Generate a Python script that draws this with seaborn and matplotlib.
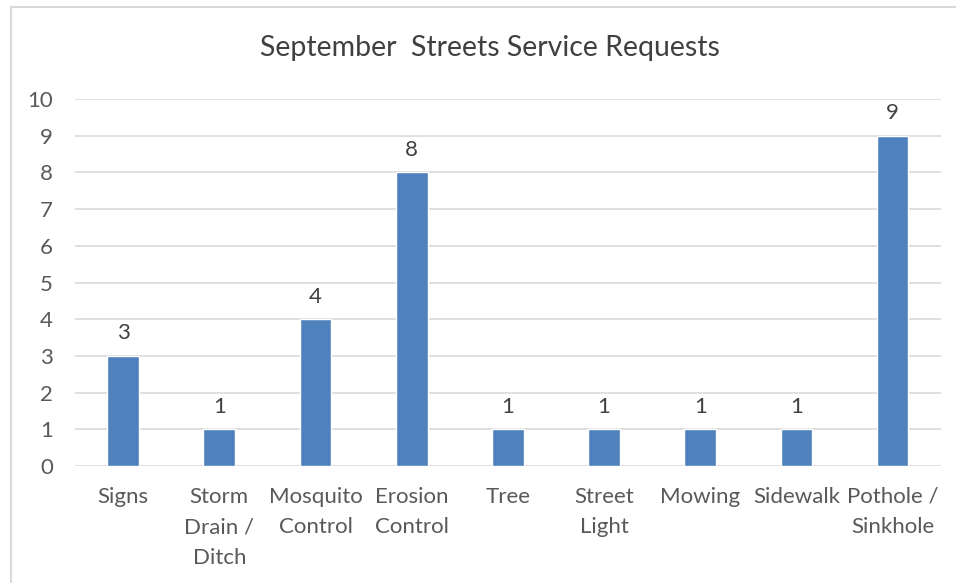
import pandas as pd
import seaborn as sns
import matplotlib.pyplot as plt
from matplotlib.lines import Line2D

## Data
categories = ['Signs', 'Storm\nDrain /\nDitch', 'Mosquito\nControl', 'Erosion\nControl',
              'Tree', 'Street\nLight', 'Mowing', 'Sidewalk', 'Pothole /\nSinkhole']
requests = [3, 1, 4, 8, 1, 1, 1, 1, 9]

df = pd.DataFrame({'category': categories, 'requests': requests})

sns.set_theme(style='white')
plt.rcParams['font.family'] = ['Lato', 'DejaVu Sans']
text_col = '#595959'

fig = plt.figure(figsize=(9.56, 5.83), dpi=100)
ax = fig.add_axes([0.0785, 0.2007, 0.9055, 0.6293])

sns.barplot(data=df, x='category', y='requests', color='#4F81BD',
            width=0.33, saturation=1, ax=ax, zorder=3)

# value labels on top of bars
ax.bar_label(ax.containers[0], padding=9, fontsize=16, color='#404040')

ax.set_ylim(0, 10)
ax.set_yticks(range(0, 11))
ax.set_xlim(-0.5, len(categories) - 0.5)
ax.yaxis.grid(True, color='#D9D9D9', lw=1.2, zorder=0)
ax.set_xlabel('')
ax.set_ylabel('')
for s in ax.spines.values():
    s.set_visible(False)
ax.tick_params(axis='both', length=0, labelsize=16, labelcolor=text_col)
ax.tick_params(axis='y', pad=16)
ax.tick_params(axis='x', pad=15)
for lbl in ax.get_xticklabels():
    lbl.set_linespacing(1.65)
    lbl.set_verticalalignment('top')

fig.text(0.5126, 0.917, 'September  Streets Service Requests', ha='center', va='center',
         fontsize=20.5, color='#404040')

# chart border (partially cropped in reference)
fig.add_artist(Line2D([0.0115, 0.0115], [0, 0.988], transform=fig.transFigure,
                      color='#D9D9D9', lw=1.5))
fig.add_artist(Line2D([0.0115, 1.0], [0.988, 0.988], transform=fig.transFigure,
                      color='#D9D9D9', lw=1.5))

fig.savefig('out.png', dpi=100)
